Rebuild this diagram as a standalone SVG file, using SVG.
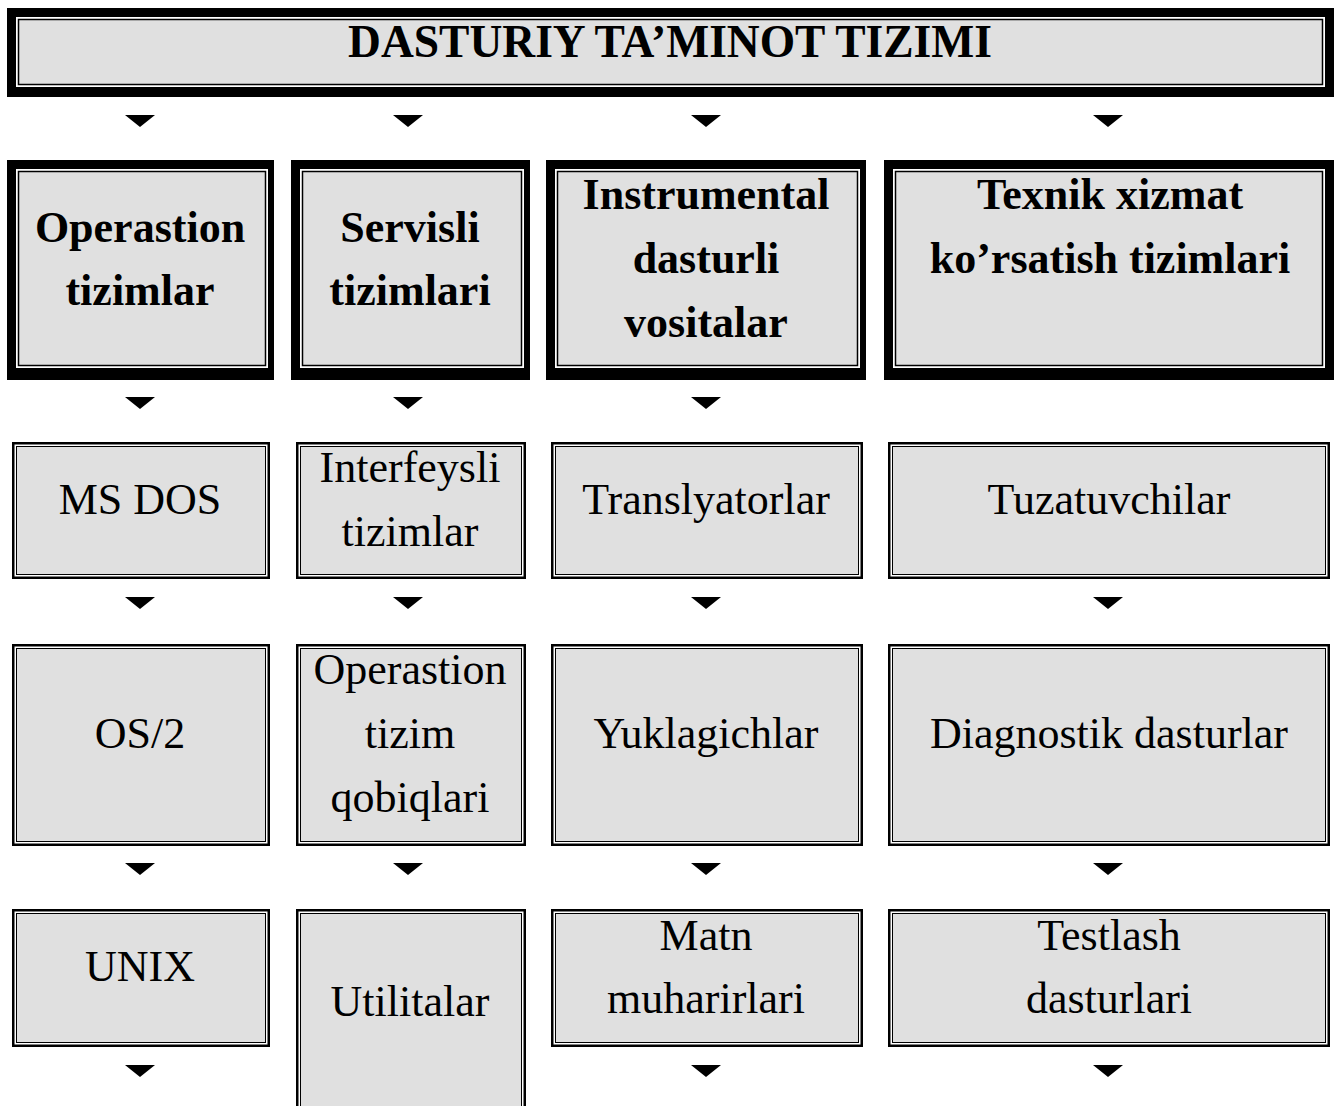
<svg xmlns="http://www.w3.org/2000/svg" xmlns:xlink="http://www.w3.org/1999/xlink" width="1338" height="1106" viewBox="0 0 1338 1106">
  <style>
    .bg { fill: #ffffff; }
    .blk { fill: #000000; }
    .gap { fill: #ffffff; }
    .face { fill: #e0e0e0; stroke: #000000; stroke-width: 1.5; }
    .face1 { fill: #e0e0e0; stroke: #000000; stroke-width: 1; }
    text { font-family: "Liberation Serif", "Times New Roman", serif; font-size: 44px; fill: #000000; text-anchor: middle; }
    .b { font-weight: bold; }
    .title { font-size: 45.5px; }
  </style>
  <defs>
    <path id="arr" d="M-15,0 L15,0 L0,12 Z" fill="#000000"/>
  </defs>
  <rect class="bg" x="0" y="0" width="1338" height="1106"/>

  <!-- arrows between the levels -->
  <g id="connectors">
    <use xlink:href="#arr" x="140" y="115"/>
    <use xlink:href="#arr" x="408" y="115"/>
    <use xlink:href="#arr" x="706" y="115"/>
    <use xlink:href="#arr" x="1108" y="115"/>

    <use xlink:href="#arr" x="140" y="397"/>
    <use xlink:href="#arr" x="408" y="397"/>
    <use xlink:href="#arr" x="706" y="397"/>

    <use xlink:href="#arr" x="140" y="597"/>
    <use xlink:href="#arr" x="408" y="597"/>
    <use xlink:href="#arr" x="706" y="597"/>
    <use xlink:href="#arr" x="1108" y="597"/>

    <use xlink:href="#arr" x="140" y="863"/>
    <use xlink:href="#arr" x="408" y="863"/>
    <use xlink:href="#arr" x="706" y="863"/>
    <use xlink:href="#arr" x="1108" y="863"/>

    <use xlink:href="#arr" x="140" y="1065"/>
    <use xlink:href="#arr" x="706" y="1065"/>
    <use xlink:href="#arr" x="1108" y="1065"/>
  </g>

  <!-- root -->
  <g id="root">
    <rect class="blk" x="7" y="8" width="1327" height="89"/>
    <rect class="gap" x="16" y="17" width="1309" height="70"/>
    <rect class="face" x="18.5" y="19.5" width="1304" height="65"/>
    <text class="b title" x="670" y="57">DASTURIY TA’MINOT TIZIMI</text>
  </g>

  <!-- level 1: categories (heavy frames) -->
  <g id="cat-os">
    <rect class="blk" x="7" y="160" width="267" height="220"/>
    <rect class="gap" x="16" y="169" width="252" height="199"/>
    <rect class="face" x="18.5" y="171.5" width="247" height="194"/>
    <text class="b" x="140" y="242">Operastion</text>
    <text class="b" x="140" y="305">tizimlar</text>
  </g>
  <g id="cat-service">
    <rect class="blk" x="291" y="160" width="239" height="220"/>
    <rect class="gap" x="300" y="169" width="224" height="199"/>
    <rect class="face" x="302.5" y="171.5" width="219" height="194"/>
    <text class="b" x="410" y="242">Servisli</text>
    <text class="b" x="410" y="305">tizimlari</text>
  </g>
  <g id="cat-tools">
    <rect class="blk" x="546" y="160" width="320" height="220"/>
    <rect class="gap" x="555" y="169" width="305" height="199"/>
    <rect class="face" x="557.5" y="171.5" width="300" height="194"/>
    <text class="b" x="706" y="209">Instrumental</text>
    <text class="b" x="706" y="273">dasturli</text>
    <text class="b" x="706" y="337">vositalar</text>
  </g>
  <g id="cat-maint">
    <rect class="blk" x="884" y="160" width="450" height="220"/>
    <rect class="gap" x="893" y="169" width="432" height="199"/>
    <rect class="face" x="895.5" y="171.5" width="427" height="194"/>
    <text class="b" x="1110" y="209">Texnik xizmat</text>
    <text class="b" x="1110" y="273">ko’rsatish tizimlari</text>
  </g>

  <!-- level 2 -->
  <g id="msdos">
    <rect class="blk" x="12" y="442" width="258" height="137"/>
    <rect class="gap" x="14.5" y="444.5" width="253" height="132"/>
    <rect class="face1" x="16.5" y="446.5" width="249" height="128"/>
    <text x="140" y="514">MS DOS</text>
  </g>
  <g id="interface">
    <rect class="blk" x="296" y="442" width="230" height="137"/>
    <rect class="gap" x="298.5" y="444.5" width="225" height="132"/>
    <rect class="face1" x="300.5" y="446.5" width="221" height="128"/>
    <text x="410" y="482">Interfeysli</text>
    <text x="410" y="546">tizimlar</text>
  </g>
  <g id="translators">
    <rect class="blk" x="551" y="442" width="312" height="137"/>
    <rect class="gap" x="553.5" y="444.5" width="307" height="132"/>
    <rect class="face1" x="555.5" y="446.5" width="303" height="128"/>
    <text x="706" y="514">Translyatorlar</text>
  </g>
  <g id="debuggers">
    <rect class="blk" x="888" y="442" width="442" height="137"/>
    <rect class="gap" x="890.5" y="444.5" width="437" height="132"/>
    <rect class="face1" x="892.5" y="446.5" width="433" height="128"/>
    <text x="1109" y="514">Tuzatuvchilar</text>
  </g>

  <!-- level 3 -->
  <g id="os2">
    <rect class="blk" x="12" y="644" width="258" height="202"/>
    <rect class="gap" x="14.5" y="646.5" width="253" height="197"/>
    <rect class="face1" x="16.5" y="648.5" width="249" height="193"/>
    <text x="140" y="748">OS/2</text>
  </g>
  <g id="shells">
    <rect class="blk" x="296" y="644" width="230" height="202"/>
    <rect class="gap" x="298.5" y="646.5" width="225" height="197"/>
    <rect class="face1" x="300.5" y="648.5" width="221" height="193"/>
    <text x="410" y="684">Operastion</text>
    <text x="410" y="748">tizim</text>
    <text x="410" y="812">qobiqlari</text>
  </g>
  <g id="loaders">
    <rect class="blk" x="551" y="644" width="312" height="202"/>
    <rect class="gap" x="553.5" y="646.5" width="307" height="197"/>
    <rect class="face1" x="555.5" y="648.5" width="303" height="193"/>
    <text x="706" y="748">Yuklagichlar</text>
  </g>
  <g id="diagnostics">
    <rect class="blk" x="888" y="644" width="442" height="202"/>
    <rect class="gap" x="890.5" y="646.5" width="437" height="197"/>
    <rect class="face1" x="892.5" y="648.5" width="433" height="193"/>
    <text x="1109" y="748">Diagnostik dasturlar</text>
  </g>

  <!-- level 4 -->
  <g id="unix">
    <rect class="blk" x="12" y="909" width="258" height="138"/>
    <rect class="gap" x="14.5" y="911.5" width="253" height="133"/>
    <rect class="face1" x="16.5" y="913.5" width="249" height="129"/>
    <text x="140" y="981">UNIX</text>
  </g>
  <g id="utilities">
    <rect class="blk" x="296" y="909" width="230" height="210"/>
    <rect class="gap" x="298.5" y="911.5" width="225" height="205"/>
    <rect class="face1" x="300.5" y="913.5" width="221" height="201"/>
    <text x="410" y="1016">Utilitalar</text>
  </g>
  <g id="editors">
    <rect class="blk" x="551" y="909" width="312" height="138"/>
    <rect class="gap" x="553.5" y="911.5" width="307" height="133"/>
    <rect class="face1" x="555.5" y="913.5" width="303" height="129"/>
    <text x="706" y="950">Matn</text>
    <text x="706" y="1013">muharirlari</text>
  </g>
  <g id="testing">
    <rect class="blk" x="888" y="909" width="442" height="138"/>
    <rect class="gap" x="890.5" y="911.5" width="437" height="133"/>
    <rect class="face1" x="892.5" y="913.5" width="433" height="129"/>
    <text x="1109" y="950">Testlash</text>
    <text x="1109" y="1013">dasturlari</text>
  </g>
</svg>
